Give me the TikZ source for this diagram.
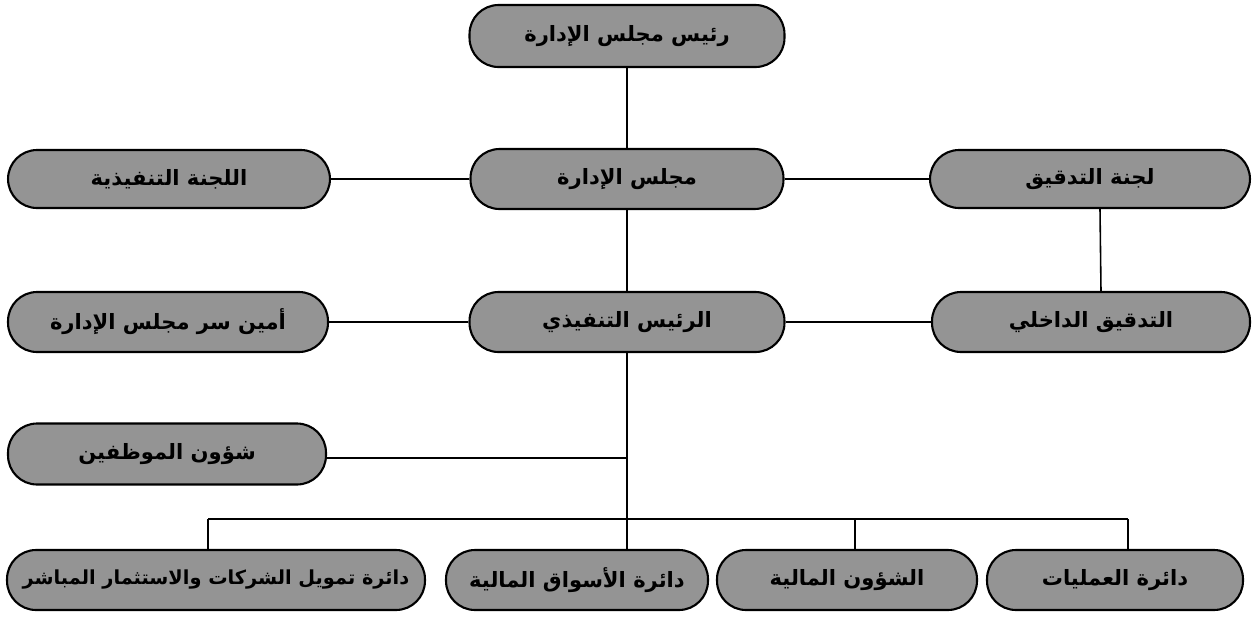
\documentclass[tikz,border=0pt]{standalone}
\usepackage{fontspec}
\newfontfamily\arabicfont[Script=Arabic]{DejaVu Sans}
\TeXXeTstate=1
\newcommand\artext[1]{{\arabicfont\bfseries\beginR #1\endR}}
\tikzset{
	orgbox/.style={draw=black, line width=1.2pt, fill=black!42, rounded corners=0.58cm,
		minimum height=1.2cm, inner sep=0pt, font=\large, text=black},
	link/.style={line width=0.9pt}
}
\begin{document}
\begin{tikzpicture}[x=0.02cm, y=-0.02cm]
				\useasboundingbox (0,0) rectangle (1258,623);
				
				\node[orgbox, minimum width=6.3cm, minimum height=1.24cm] (chair) at (627,36) {\artext{رئيس مجلس الإدارة}};
				
				\node[orgbox, minimum width=6.44cm, minimum height=1.16cm] (exec) at (169,179) {\artext{اللجنة التنفيذية}};
				\node[orgbox, minimum width=6.26cm] (board) at (627,179) {\artext{مجلس الإدارة}};
				\node[orgbox, minimum width=6.4cm, minimum height=1.16cm] (audit) at (1090,179) {\artext{لجنة التدقيق}};
				
				\node[orgbox, minimum width=6.4cm] (secretary) at (168,322) {\artext{أمين سر مجلس الإدارة}};
				\node[orgbox, minimum width=6.3cm] (ceo) at (627,322) {\artext{الرئيس التنفيذي}};
				\node[orgbox, minimum width=6.36cm] (intaudit) at (1091,322) {\artext{التدقيق الداخلي}};
				
				\node[orgbox, minimum width=6.36cm, minimum height=1.22cm] (staff) at (167,454) {\artext{شؤون الموظفين}};
				
				\node[orgbox, minimum width=8.36cm, font=\fontsize{11}{13}\selectfont] (corp) at (216,580) {\artext{دائرة تمويل الشركات والاستثمار المباشر}};
				\node[orgbox, minimum width=5.24cm] (markets) at (577,580) {\artext{دائرة الأسواق المالية}};
				\node[orgbox, minimum width=5.2cm] (finance) at (847,580) {\artext{الشؤون المالية}};
				\node[orgbox, minimum width=5.12cm] (ops) at (1115,580) {\artext{دائرة العمليات}};
				
				% links
				\draw[link] (chair) -- (board);
				\draw[link] (exec) -- (board);
				\draw[link] (board) -- (audit);
				\draw[link] ([xshift=0.2cm]audit.south) -- ([xshift=0.2cm]intaudit.north);
				\draw[link] (board) -- (ceo);
				\draw[link] (secretary) -- (ceo);
				\draw[link] (ceo) -- (intaudit);
				
				\coordinate (hub) at (ceo.south |- 0,519);
				\draw[link] (ceo.south) -- (hub);
				\draw[link] (staff.east |- 0,458) -- (ceo.south |- 0,458);
				
				\coordinate (d1) at (208,519);
				\coordinate (d3) at (855,519);
				\coordinate (d4) at (1128,519);
				\draw[link] (d1) -- (d4);
				\draw[link] (d1) -- (d1 |- corp.north);
				\draw[link] (hub) -- (hub |- markets.north);
				\draw[link] (d3) -- (d3 |- finance.north);
				\draw[link] (d4) -- (d4 |- ops.north);
			\end{tikzpicture}
\end{document}
